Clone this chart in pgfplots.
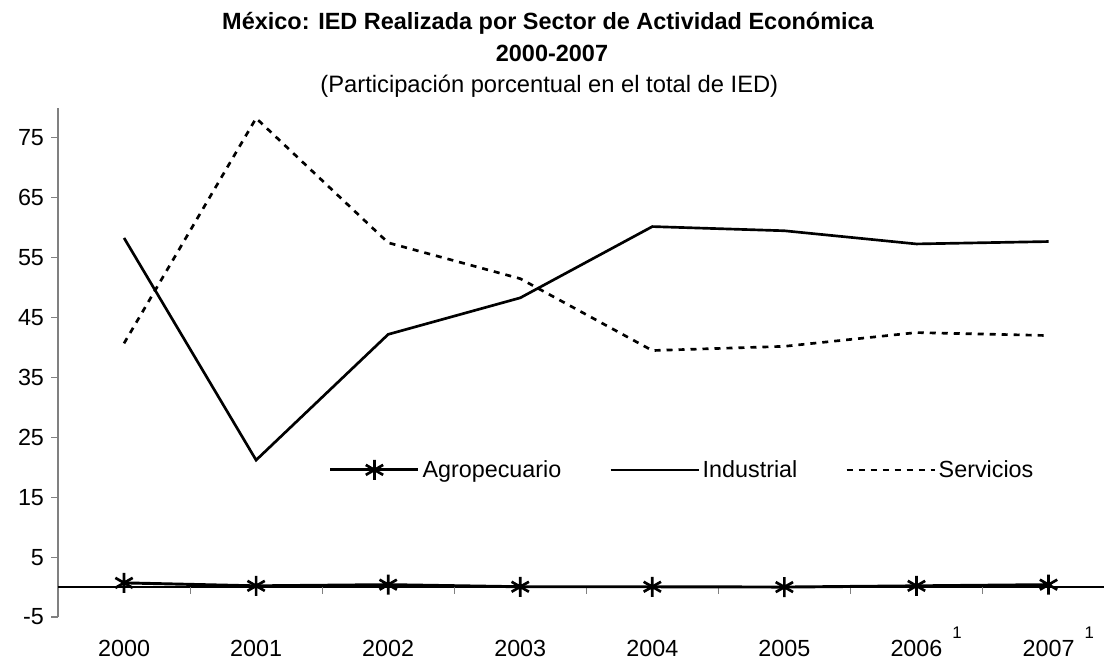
\documentclass[border=0pt]{standalone}
\usepackage{fontspec}
\setmainfont{Liberation Sans}
\usepackage{pgfplots}
\pgfplotsset{compat=1.18}

\newcommand{\supone}{\rlap{\hspace{7.5pt}\smash{\raisebox{13.5pt}{\fontsize{12.6}{12.6}\selectfont 1}}}}

\begin{document}
\begin{tikzpicture}
\useasboundingbox (0,0) rectangle (828pt,496.5pt);
\node[anchor=base, inner sep=0pt, font=\bfseries\fontsize{17.6}{20}\selectfont] at (411pt,474pt) {México: IED Realizada por Sector de Actividad Económica};
\node[anchor=base, inner sep=0pt, font=\bfseries\fontsize{17.6}{20}\selectfont] at (414pt,450pt) {2000-2007};
\node[anchor=base, inner sep=0pt, font=\fontsize{17.8}{20}\selectfont] at (412pt,427pt) {(Participación porcentual en el total de IED)};
\begin{axis}[
    at={(43.5pt,33.75pt)}, anchor=south west,
    scale only axis, width=784.5pt, height=381.75pt,
    xmin=-0.5, xmax=7.42, ymin=-5, ymax=80,
    axis y line*=left, axis x line*=bottom,
    x axis line style={draw=none},
    y axis line style={draw=gray, line width=1pt, -},
    xtick={0,...,7},
    xticklabels={2000,2001,2002,2003,2004,2005,2006\supone,2007\supone},
    xtick style={draw=none},
    ytick={-5,5,15,25,35,45,55,65,75},
    yticklabels={-5,5,15,25,35,45,55,65,75},
    ytick style={draw=gray, line width=0.8pt},
    tick align=outside, major tick length=5pt,
    tick label style={font=\fontsize{17.5}{20}\selectfont},
    yticklabel style={xshift=-2pt},
    xticklabel style={yshift=-9pt},
    clip=false,
    legend columns=3,
    legend style={draw=none, fill=none, at={(0.255,0.289)}, anchor=west,
        font=\fontsize{17.5}{20}\selectfont,
        /tikz/every even column/.append style={column sep=34pt}},
    legend image code/.code={\draw[mark repeat=2,mark phase=2] plot coordinates {(0pt,0pt) (33pt,0pt) (66pt,0pt)};},
]
% zero line with category separators
\draw[black, line width=1pt] (axis cs:-0.5,0) -- (axis cs:7.42,0);
\pgfplotsinvokeforeach{0.5,1.5,2.5,3.5,4.5,5.5,6.5}{
    \draw[gray, line width=0.8pt] (axis cs:#1,0) -- ([yshift=-5pt]axis cs:#1,0);
}
\addplot[black, line width=2.2pt, mark=asterisk, mark size=7.5pt, mark options={line width=2pt}] coordinates {
    (0,0.7) (1,0.2) (2,0.4) (3,0.05) (4,0.05) (5,0.0) (6,0.2) (7,0.4)
};
\addplot[black, line width=2pt] coordinates {
    (0,58.3) (1,21.2) (2,42.2) (3,48.3) (4,60.2) (5,59.5) (6,57.3) (7,57.7)
};
\addplot[black, line width=2pt, dash pattern=on 4.5pt off 4.5pt] coordinates {
    (0,40.7) (1,78.3) (2,57.5) (3,51.5) (4,39.5) (5,40.2) (6,42.5) (7,42.0)
};
\legend{Agropecuario,Industrial,Servicios}
\end{axis}
\end{tikzpicture}
\end{document}
